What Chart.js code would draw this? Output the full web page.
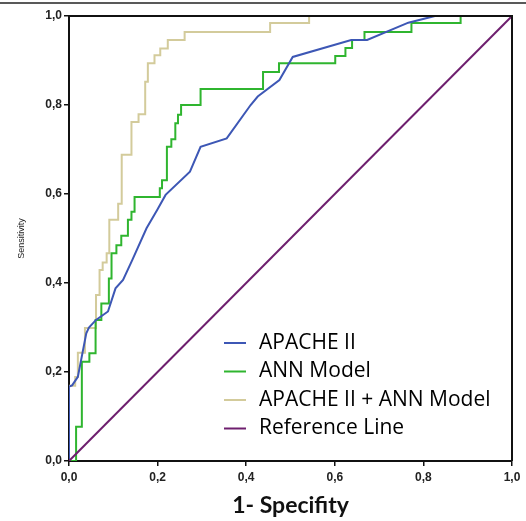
<!DOCTYPE html>
<html>
<head>
<meta charset="utf-8">
<script src="https://cdn.jsdelivr.net/npm/chart.js@4"></script>
<style>
  html, body { margin: 0; padding: 0; background: #fff; }
  #wrap { width: 526px; height: 521px; position: relative; }
</style>
</head>
<body>
<div id="wrap"><canvas id="roc" width="526" height="521"></canvas></div>
<script>
// Curvas ROC (1 - especificidad, sensibilidad)
const apacheFpr = [0, 0, 0.007, 0.020, 0.039, 0.045, 0.061, 0.088, 0.105, 0.122, 0.143, 0.175, 0.199, 0.218, 0.273, 0.297, 0.356, 0.410, 0.426, 0.475, 0.505, 0.637, 0.673, 0.766, 0.826, 1];
const apacheTpr = [0, 0.167, 0.170, 0.189, 0.287, 0.300, 0.317, 0.336, 0.388, 0.407, 0.452, 0.523, 0.564, 0.598, 0.650, 0.706, 0.725, 0.800, 0.819, 0.856, 0.908, 0.946, 0.946, 0.985, 1, 1];

const annFpr = [0, 0.016, 0.016, 0.029, 0.029, 0.046, 0.046, 0.060, 0.060, 0.073, 0.073, 0.090, 0.090, 0.096, 0.096, 0.107, 0.107, 0.118, 0.118, 0.133, 0.133, 0.141, 0.141, 0.148, 0.148, 0.205, 0.205, 0.210, 0.210, 0.221, 0.221, 0.231, 0.231, 0.240, 0.240, 0.246, 0.246, 0.253, 0.253, 0.297, 0.297, 0.438, 0.438, 0.474, 0.474, 0.601, 0.601, 0.624, 0.624, 0.639, 0.639, 0.667, 0.667, 0.773, 0.773, 0.884, 0.884, 1];
const annTpr = [0, 0, 0.077, 0.077, 0.223, 0.223, 0.242, 0.242, 0.317, 0.317, 0.354, 0.354, 0.410, 0.410, 0.467, 0.467, 0.485, 0.485, 0.506, 0.506, 0.542, 0.542, 0.560, 0.560, 0.593, 0.593, 0.613, 0.613, 0.631, 0.631, 0.706, 0.706, 0.723, 0.723, 0.759, 0.759, 0.778, 0.778, 0.800, 0.800, 0.836, 0.836, 0.874, 0.874, 0.894, 0.894, 0.910, 0.910, 0.928, 0.928, 0.946, 0.946, 0.964, 0.964, 0.984, 0.984, 1, 1];

const comboFpr = [0, 0, 0.014, 0.014, 0.020, 0.020, 0.036, 0.036, 0.061, 0.061, 0.069, 0.069, 0.076, 0.076, 0.085, 0.085, 0.091, 0.091, 0.111, 0.111, 0.119, 0.119, 0.141, 0.141, 0.157, 0.157, 0.172, 0.172, 0.178, 0.178, 0.193, 0.193, 0.206, 0.206, 0.223, 0.223, 0.261, 0.261, 0.454, 0.454, 0.542, 0.542, 1];
const comboTpr = [0, 0.169, 0.169, 0.189, 0.189, 0.243, 0.243, 0.299, 0.299, 0.373, 0.373, 0.429, 0.429, 0.446, 0.446, 0.467, 0.467, 0.542, 0.542, 0.578, 0.578, 0.688, 0.688, 0.762, 0.762, 0.779, 0.779, 0.852, 0.852, 0.894, 0.894, 0.912, 0.912, 0.927, 0.927, 0.946, 0.946, 0.964, 0.964, 0.984, 0.984, 1, 1];

const refFpr = [0, 1];
const refTpr = [0, 1];

const seriesNames = ['APACHE II', 'ANN Model', 'APACHE II + ANN Model', 'Reference Line'];
const axisTicks = [0, 0.2, 0.4, 0.6, 0.8, 1.0];

const puntos = (xs, ys) => xs.map((x, i) => ({ x: x, y: ys[i] }));
const coma = v => v.toFixed(1).replace('.', ',');

// Marco: linea superior, borde derecho/superior del area y leyenda interior
const marco = {
  id: 'marco',
  beforeDraw(chart) {
    const c = chart.ctx;
    c.save();
    c.strokeStyle = '#222';
    c.lineWidth = 1.5;
    c.beginPath();
    c.moveTo(0, 3);
    c.lineTo(chart.width, 3);
    c.stroke();
    c.restore();
  },
  afterDraw(chart) {
    const c = chart.ctx;
    const a = chart.chartArea;
    c.save();
    c.strokeStyle = '#111';
    c.lineWidth = 2;
    c.beginPath();
    c.moveTo(a.left, a.top);
    c.lineTo(a.right, a.top);
    c.lineTo(a.right, a.bottom);
    c.stroke();

    // leyenda
    c.font = '21px "Open Sans"';
    c.textBaseline = 'middle';
    c.fillStyle = '#000';
    chart.data.datasets.forEach((ds, i) => {
      const y = 343 + i * 28.5;
      c.strokeStyle = ds.borderColor;
      c.lineWidth = 2;
      c.beginPath();
      c.moveTo(224, y);
      c.lineTo(246, y);
      c.stroke();
      c.fillText(ds.label, 259, y);
    });
    c.restore();
  }
};

const ctx = document.getElementById('roc').getContext('2d');

new Chart(ctx, {
  type: 'scatter',
  data: {
    datasets: [
      { label: seriesNames[0], data: puntos(apacheFpr, apacheTpr), borderColor: '#3d57b5', order: 1 },
      { label: seriesNames[1], data: puntos(annFpr, annTpr), borderColor: '#2fb52f', order: 2 },
      { label: seriesNames[2], data: puntos(comboFpr, comboTpr), borderColor: '#d3cb9b', order: 3 },
      { label: seriesNames[3], data: puntos(refFpr, refTpr), borderColor: '#6e1f6e', order: 0 }
    ].map(ds => Object.assign(ds, {
      showLine: true,
      borderWidth: 2,
      pointRadius: 0,
      pointHoverRadius: 0,
      tension: 0,
      fill: false
    }))
  },
  options: {
    responsive: false,
    animation: false,
    layout: { padding: { left: 0, right: 14, top: 16, bottom: 0 } },
    plugins: {
      legend: { display: false },
      tooltip: { enabled: false }
    },
    scales: {
      x: {
        type: 'linear',
        min: 0,
        max: 1,
        afterBuildTicks: s => { s.ticks = axisTicks.map(v => ({ value: v })); },
        afterFit: s => { s.height = 60; },
        grid: { drawOnChartArea: false, drawTicks: true, tickLength: 5, color: '#111', lineWidth: 1.5 },
        border: { display: true, color: '#111', width: 2 },
        ticks: {
          callback: v => coma(v),
          color: '#222',
          padding: 4,
          maxRotation: 0,
          font: { family: 'Liberation Sans', size: 12, weight: 'bold' }
        },
        title: {
          display: true,
          text: '1- Specifity',
          color: '#111',
          padding: { top: 0, bottom: 2 },
          font: { family: 'Lato', size: 23, weight: 'bold' }
        }
      },
      y: {
        type: 'linear',
        min: 0,
        max: 1,
        afterBuildTicks: s => { s.ticks = axisTicks.map(v => ({ value: v })); },
        afterFit: s => { s.width = 69; },
        grid: { drawOnChartArea: false, drawTicks: true, tickLength: 5, color: '#111', lineWidth: 1.5 },
        border: { display: true, color: '#111', width: 2 },
        ticks: {
          callback: v => coma(v),
          color: '#222',
          padding: 2,
          font: { family: 'Liberation Sans', size: 12, weight: 'bold' }
        },
        title: {
          display: true,
          text: 'Sensitivity',
          color: '#222',
          padding: { top: 16, bottom: 0 },
          font: { family: 'Liberation Sans', size: 9 }
        }
      }
    }
  },
  plugins: [marco]
});
</script>
</body>
</html>
